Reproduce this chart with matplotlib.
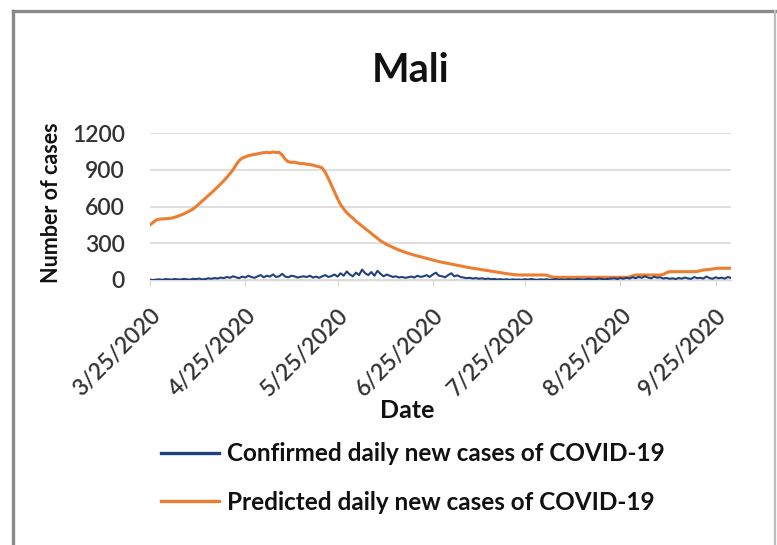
import matplotlib
matplotlib.use("Agg")
import matplotlib.pyplot as plt
from matplotlib.lines import Line2D
import pandas as pd

plt.rcParams['font.family'] = ['Lato', 'DejaVu Sans']

title = "Mali"
start_date = "2020-03-25"

# Daily confirmed new cases (3/25/2020 - 9/30/2020)
confirmed = [
    2, 0, 3, 5, 2, 7, 6, 3, 8, 5,
    4, 9, 6, 3, 10, 7, 12, 5, 8, 14,
    10, 16, 12, 20, 15, 25, 18, 30, 22, 15,
    28, 20, 35, 24, 18, 30, 40, 22, 35, 28,
    45, 25, 30, 50, 28, 22, 35, 30, 20, 26,
    30, 24, 35, 20, 28, 18, 30, 40, 25, 32,
    45, 28, 55, 35, 70, 45, 30, 60, 40, 85,
    55, 40, 65, 35, 75, 50, 30, 45, 35, 25,
    30, 20, 25, 18, 22, 28, 20, 35, 25, 30,
    40, 25, 45, 60, 35, 30, 22, 40, 55, 30,
    38, 25, 20, 15, 18, 12, 16, 10, 14, 8,
    12, 6, 9, 4, 7, 3, 6, 2, 5, 3,
    4, 2, 6, 3, 8, 4, 2, 5, 3, 6,
    2, 4, 7, 3, 5, 2, 6, 4, 3, 8,
    5, 3, 7, 10, 4, 6, 12, 8, 5, 9,
    11, 14, 8, 16, 10, 18, 12, 22, 15, 25,
    18, 30, 20, 14, 26, 19, 22, 12, 17, 10,
    14, 8, 16, 11, 20, 13, 9, 24, 15, 18,
    12, 28, 16, 10, 22, 14, 19, 11, 25, 16,
]

# Daily predicted new cases (same dates)
predicted = [
    450, 470, 490, 497, 498, 500, 502, 505, 512, 520,
    530, 540, 552, 565, 580, 600, 622, 645, 668, 690,
    712, 735, 760, 785, 810, 838, 868, 900, 940, 975,
    995, 1005, 1015, 1020, 1025, 1030, 1035, 1040, 1042, 1038,
    1045, 1040, 1042, 1020, 985, 965, 960, 962, 955, 950,
    950, 945, 942, 938, 930, 925, 915, 880, 830, 775,
    720, 665, 615, 580, 550, 525, 505, 480, 460, 440,
    420, 400, 380, 360, 340, 320, 305, 290, 278, 265,
    255, 245, 235, 226, 218, 210, 203, 196, 190, 183,
    176, 170, 163, 157, 150, 145, 140, 135, 130, 125,
    120, 115, 110, 105, 100, 96, 92, 88, 84, 80,
    76, 72, 68, 64, 60, 56, 52, 48, 45, 42,
    41, 41, 41, 41, 41, 41, 41, 41, 41, 40,
    30, 24, 22, 22, 22, 22, 22, 22, 22, 22,
    22, 22, 22, 22, 22, 22, 22, 22, 22, 22,
    22, 22, 22, 22, 22, 22, 24, 35, 41, 41,
    41, 41, 41, 41, 41, 41, 41, 45, 60, 68,
    68, 68, 68, 68, 68, 68, 68, 68, 70, 75,
    82, 84, 86, 90, 94, 96, 96, 96, 96, 96,
]

tick_labels = ["3/25/2020", "4/25/2020", "5/25/2020", "6/25/2020",
               "7/25/2020", "8/25/2020", "9/25/2020"]
y_ticks = [0, 300, 600, 900, 1200]

series_names = ["Confirmed daily new cases of COVID-19",
                "Predicted daily new cases of COVID-19"]
colors = ["#22407A", "#ED7D31"]

dates = pd.date_range(start_date, periods=len(confirmed), freq="D")
tick_dates = pd.to_datetime(tick_labels, format="%m/%d/%Y")

W, H = 777, 545
fig = plt.figure(figsize=(W / 100, H / 100), dpi=100)
ax = fig.add_axes([150 / W, 1 - 280 / H, (731 - 150) / W, (280 - 133) / H])

ax.plot(dates, predicted, color=colors[1], lw=2.2, solid_joinstyle="round", zorder=3)
ax.plot(dates, confirmed, color=colors[0], lw=1.5, solid_joinstyle="round", zorder=4)

ax.set_xlim(dates[0], dates[-1])
ax.set_ylim(0, 1200)
ax.set_yticks(y_ticks)
ax.set_yticklabels([str(v) for v in y_ticks])
ax.set_xticks(tick_dates)
ax.set_xticklabels(tick_labels)

ax.grid(axis="y", color="#D9D9D9", lw=1.2)
ax.set_axisbelow(True)
for s in ["top", "right", "left"]:
    ax.spines[s].set_visible(False)
ax.spines["bottom"].set_color("#D9D9D9")
ax.spines["bottom"].set_linewidth(1.0)

tick_color = "#333333"
ax.tick_params(axis="y", length=0, pad=18, labelsize=16.5, labelcolor=tick_color)
ax.tick_params(axis="x", length=4, color="#D9D9D9", pad=14, labelsize=16.5,
               labelcolor=tick_color)
for lbl in ax.get_xticklabels():
    lbl.set_rotation(45)
    lbl.set_ha("right")
    lbl.set_va("top")
    lbl.set_rotation_mode("anchor")
for lbl in ax.get_xticklabels() + ax.get_yticklabels():
    lbl.set_fontweight("semibold")

text_color = "#111111"
fig.text(411 / W, 1 - 70 / H, title, ha="center", va="center",
         fontsize=28.5, fontweight="bold", color=text_color)
fig.text(52 / W, 1 - 203 / H, "Number of cases", rotation=90, ha="center",
         va="center", fontsize=15.5, fontweight="bold", color=text_color)
fig.text(407 / W, 1 - 411 / H, "Date", ha="center", va="center",
         fontsize=18, fontweight="bold", color=text_color)

handles = [Line2D([], [], color=c, lw=2.4) for c in colors]
leg = fig.legend(handles, series_names, loc="center left",
                 bbox_to_anchor=(161 / W, 1 - 478 / H), frameon=False,
                 borderpad=0, borderaxespad=0, handlelength=2.4,
                 handletextpad=0.3, labelspacing=1.05,
                 prop={"size": 17.5, "weight": "bold"})
for t in leg.get_texts():
    t.set_color(text_color)

# chart border
fx = [13 / W, 775 / W]
fy = 1 - 11 / H
fig.add_artist(Line2D([fx[0], fx[1]], [fy, fy], transform=fig.transFigure,
                      color="#8A8A8A", lw=2.4))
fig.add_artist(Line2D([fx[0], fx[0]], [0, fy], transform=fig.transFigure,
                      color="#8A8A8A", lw=2.4))
fig.add_artist(Line2D([fx[1], fx[1]], [0, fy], transform=fig.transFigure,
                      color="#BDBDBD", lw=1.6))

fig.savefig("out.png", dpi=100)
